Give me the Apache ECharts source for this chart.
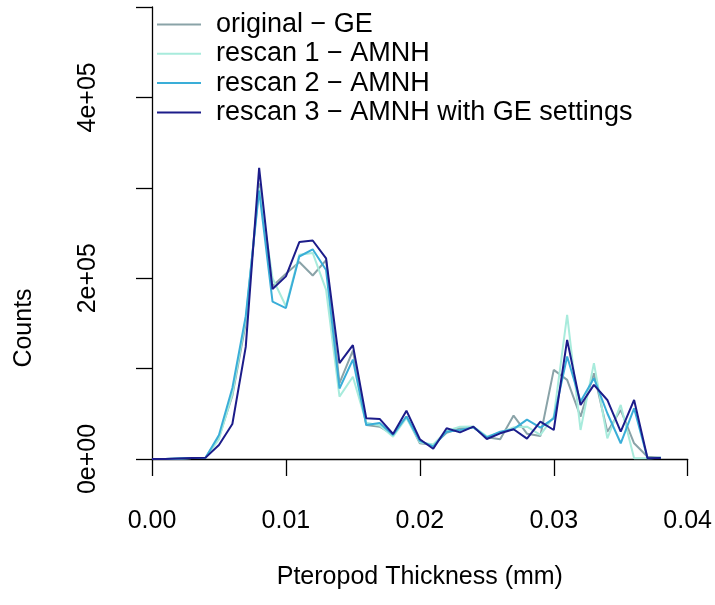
<!DOCTYPE html>
<html>
<head>
<meta charset="utf-8">
<script src="https://cdn.jsdelivr.net/npm/echarts@6/dist/echarts.min.js"></script>
<style>
  html, body { margin: 0; padding: 0; background: #fff; }
  #chart { width: 715px; height: 605px; }
</style>
</head>
<body>
<div id="chart"></div>
<script>
// thickness bins (mm)
const thickness = [0.000, 0.001, 0.002, 0.003, 0.004, 0.005, 0.006, 0.007, 0.008, 0.009,
                   0.010, 0.011, 0.012, 0.013, 0.014, 0.015, 0.016, 0.017, 0.018, 0.019,
                   0.020, 0.021, 0.022, 0.023, 0.024, 0.025, 0.026, 0.027, 0.028, 0.029,
                   0.030, 0.031, 0.032, 0.033, 0.034, 0.035, 0.036, 0.037, 0.038]

// counts per bin
const originalGE = [0, 0, 500, 1000, 1500, 24000, 70000, 150000, 305000, 191000,
                    205000, 218000, 203000, 220000, 84000, 120000, 37600, 35800, 27000, 47000,
                    17400, 15500, 29000, 34000, 35000, 24000, 21800, 48000, 28000, 25500,
                    98600, 87500, 46900, 94900, 30200, 54300, 17400, 2500, 1500]
const rescan1 = [0, 0, 500, 1000, 1500, 22000, 72000, 155000, 300000, 200000,
                 169000, 226000, 228000, 187000, 69000, 91000, 40000, 37000, 24700, 45400,
                 18500, 16000, 31000, 35800, 36000, 25000, 29000, 35000, 35800, 26600,
                 46900, 159500, 32100, 106000, 22900, 59800, 800, 800, 1500]
const rescan2 = [0, 0, 500, 1000, 1500, 26500, 78600, 158000, 297000, 174000,
                 167000, 224000, 232000, 209000, 78000, 110000, 37600, 39800, 26600, 47000,
                 20000, 14000, 30200, 32000, 35000, 24000, 30200, 33000, 43500, 34700,
                 45000, 113300, 63500, 89400, 50600, 17400, 56100, 800, 1500]
const rescan3 = [0, 0, 500, 1000, 1500, 15500, 38700, 124000, 322000, 188000,
                 202000, 240000, 241700, 222000, 106000, 126000, 45000, 44300, 27700, 53500,
                 21800, 11400, 34000, 29500, 35800, 22100, 28400, 32900, 22500, 41300,
                 32100, 131800, 59800, 82000, 65300, 30200, 65300, 800, 1000]

const seriesNames = ['original \u2212 GE', 'rescan 1 \u2212 AMNH', 'rescan 2 \u2212 AMNH', 'rescan 3 \u2212 AMNH with GE settings']
const seriesColors = ['#8aa3a8', '#a8ebdc', '#3aaed8', '#1c1c8a']

const yLabelValues = [0, 200000, 400000]
const yLabelTexts = ['0e+00', '2e+05', '4e+05']

const font = 'Liberation Sans, Arial, sans-serif'

function pairs(ys) {
    return thickness.map((x, i) => [x, ys[i]])
}

const chart = echarts.init(document.getElementById('chart'))
const allData = [originalGE, rescan1, rescan2, rescan3]

chart.setOption({
    animation: false,
    backgroundColor: '#fff',
    grid: {left: 152, right: 25, top: 7, bottom: 146, containLabel: false},
    legend: {
        orient: 'vertical',
        left: 152,
        top: 6,
        icon: 'rect',
        itemWidth: 44,
        itemHeight: 2,
        itemGap: 2.3,
        textStyle: {fontSize: 27, lineHeight: 27, color: '#000', fontFamily: font, padding: [0, 0, 0, 10]},
        data: seriesNames
    },
    xAxis: {
        type: 'value',
        min: 0,
        max: 0.04,
        interval: 0.01,
        offset: 22,
        name: 'Pteropod Thickness (mm)',
        nameLocation: 'middle',
        nameGap: 84,
        nameTextStyle: {fontSize: 25, color: '#000', fontFamily: font},
        axisLine: {show: true, lineStyle: {color: '#000', width: 1.3}},
        axisTick: {show: true, length: 17, lineStyle: {color: '#000', width: 1.3}},
        axisLabel: {margin: 28, fontSize: 25, color: '#000', fontFamily: font,
            formatter: v => v.toFixed(2)},
        splitLine: {show: false}
    },
    yAxis: {
        type: 'value',
        min: 0,
        max: 500000,
        interval: 100000,
        offset: 21,
        axisLine: {show: true, lineStyle: {color: '#000', width: 1.3}},
        axisTick: {show: true, length: 16, lineStyle: {color: '#000', width: 1.3}},
        axisLabel: {
            rotate: 90, margin: 30, fontSize: 25, color: '#000', fontFamily: font,
            formatter: v => {
                const k = yLabelValues.indexOf(v)
                return k >= 0 ? yLabelTexts[k] : ''
            }
        },
        splitLine: {show: false}
    },
    graphic: [{
        type: 'text',
        x: 24, y: 328,
        rotation: Math.PI / 2,
        style: {text: 'Counts', fontSize: 25, fill: '#000', fontFamily: font,
            align: 'center', verticalAlign: 'middle'}
    }],
    series: allData.map((d, i) => ({
        name: seriesNames[i],
        type: 'line',
        data: pairs(d),
        symbol: 'none',
        lineStyle: {color: seriesColors[i], width: 2},
        itemStyle: {color: seriesColors[i]},
        z: 2 + i
    }))
})
</script>
</body>
</html>
